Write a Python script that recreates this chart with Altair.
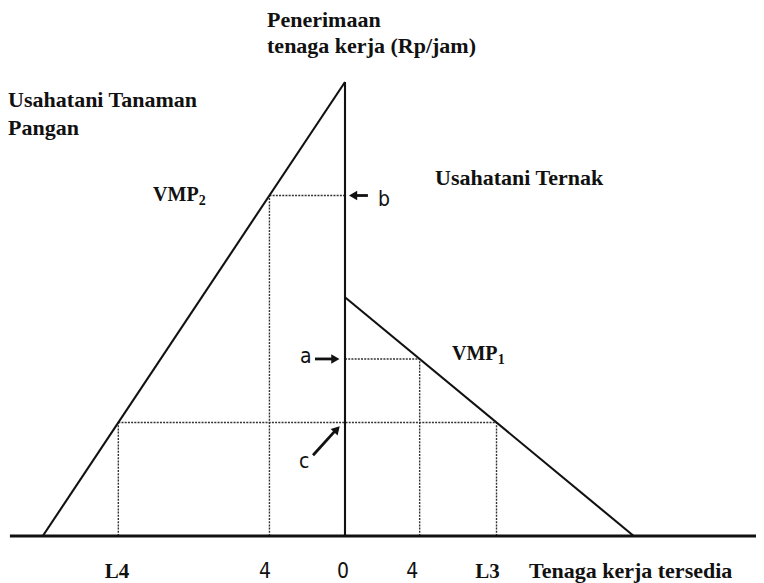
import altair as alt
import pandas as pd

# ---- values (labour units on x, Rp/jam on y) ----
vmp2_wage_top = 100.0     # VMP2 meets the wage axis
vmp2_labour_end = -15.7   # VMP2 meets the labour axis (left, food crops)
vmp1_wage_top = 52.6      # VMP1 meets the wage axis
vmp1_labour_end = 15.0    # VMP1 meets the labour axis (right, livestock)
b_level = 75.0
a_level = 39.0
c_level = 25.0

tick_labels = ["L4", "4", "0", "4", "L3"]
tick_label_x = [-11.85, -4.16, -0.1, 3.5, 7.4]
tick_label_font = ["serif", "sans", "sans", "sans", "serif"]

X_DOMAIN = [-17.506, 21.35]
Y_DOMAIN = [-10.35, 116.3]

def on_vmp2(y):
    return vmp2_labour_end * (1 - y / vmp2_wage_top)

def on_vmp1(y):
    return vmp1_labour_end * (1 - y / vmp1_wage_top)

x_b = on_vmp2(b_level)
x_L4 = on_vmp2(c_level)
x_a = on_vmp1(a_level)
x_L3 = on_vmp1(c_level)

solid = pd.DataFrame({
    "x":  [vmp2_labour_end, 0.0, 0.0, X_DOMAIN[0] + 0.1],
    "y":  [0.0, 0.0, vmp1_wage_top, 0.0],
    "x2": [0.0, 0.0, vmp1_labour_end, X_DOMAIN[1]],
    "y2": [vmp2_wage_top, vmp2_wage_top, 0.0, 0.0],
    "w":  [2.1, 2.1, 2.1, 3.0],
})

dotted = pd.DataFrame({
    "x":  [x_b, x_b, 0.0, x_a, x_L4, x_L4, x_L3],
    "y":  [b_level, 0.0, a_level, 0.0, c_level, 0.0, 0.0],
    "x2": [0.0, x_b, x_a, x_a, x_L3, x_L4, x_L3],
    "y2": [b_level, b_level, a_level, a_level, c_level, c_level, c_level],
})

# arrows pointing at b, a, c on the wage axis
arrow_lines = pd.DataFrame({
    "x":  [1.19, -1.56, -1.66],
    "y":  [b_level, a_level, 17.8],
    "x2": [0.5, -0.6, -0.55],
    "y2": [b_level, a_level, 23.0],
})
arrow_heads = pd.DataFrame({
    "x": [0.42, -0.5, -0.42],
    "y": [b_level, a_level, 23.5],
    "shape": ["triangle-left", "triangle-right", "triangle-up"],
    "angle": [0, 0, 43],
})

titles = pd.DataFrame({
    "x": [-4.05, -4.05, -17.5, -17.5, 4.68, 9.56],
    "y": [112.1, 106.4, 94.5, 88.3, 77.3, -9.25],
    "label": ["Penerimaan", "tenaga kerja (Rp/jam)", "Usahatani Tanaman",
              "Pangan", "Usahatani Ternak", "Tenaga kerja tersedia"],
})
vmp_labels = pd.DataFrame({
    "x": [-9.97, 5.56],
    "y": [73.8, 38.8],
    "label": ["VMP", "VMP"],
})
vmp_subscripts = pd.DataFrame({
    "x": [-7.6, 7.93],
    "y": [72.9, 37.9],
    "label": ["2", "1"],
})
letters = pd.DataFrame({
    "x": [1.71, -2.34, -2.39],
    "y": [72.7, 38.1, 15.0],
    "label": ["b", "a", "c"],
})
ticks = pd.DataFrame({"x": tick_label_x, "y": [-9.25] * 5,
                      "label": tick_labels, "font": tick_label_font})

xs = alt.Scale(domain=X_DOMAIN, nice=False, zero=False)
ys = alt.Scale(domain=Y_DOMAIN, nice=False, zero=False)
X = lambda f="x": alt.X(f"{f}:Q", scale=xs, axis=None)
Y = lambda f="y": alt.Y(f"{f}:Q", scale=ys, axis=None)

SERIF = "serif"
SANS = "DejaVu Sans Condensed"
INK = "#111111"

solid_layer = alt.Chart(solid).mark_rule(color=INK).encode(
    x=X(), y=Y(), x2="x2:Q", y2="y2:Q",
    strokeWidth=alt.StrokeWidth("w:Q", scale=None, legend=None))
dotted_layer = alt.Chart(dotted).mark_rule(
    color="#333333", strokeWidth=1.4, strokeDash=[2, 1.2]).encode(
    x=X(), y=Y(), x2="x2:Q", y2="y2:Q")
arrow_line_layer = alt.Chart(arrow_lines).mark_rule(color=INK, strokeWidth=2.8).encode(
    x=X(), y=Y(), x2="x2:Q", y2="y2:Q")
arrow_head_layer = alt.Chart(arrow_heads).mark_point(
    filled=True, color=INK, opacity=1, size=90).encode(
    x=X(), y=Y(),
    shape=alt.Shape("shape:N", scale=None, legend=None),
    angle=alt.Angle("angle:Q", scale=None))

title_layer = alt.Chart(titles).mark_text(
    font=SERIF, fontWeight="bold", fontSize=22, align="left",
    baseline="alphabetic", color=INK).encode(x=X(), y=Y(), text="label:N")
vmp_layer = alt.Chart(vmp_labels).mark_text(
    font=SERIF, fontWeight="bold", fontSize=20, align="left",
    baseline="alphabetic", color=INK).encode(x=X(), y=Y(), text="label:N")
vmp_sub_layer = alt.Chart(vmp_subscripts).mark_text(
    font=SERIF, fontWeight="bold", fontSize=14, align="left",
    baseline="alphabetic", color=INK).encode(x=X(), y=Y(), text="label:N")
letter_layer = alt.Chart(letters).mark_text(
    font=SANS, fontSize=21, align="left", baseline="alphabetic",
    color=INK).encode(x=X(), y=Y(), text="label:N")
tick_serif = alt.Chart(ticks[ticks["font"] == "serif"]).mark_text(
    font=SERIF, fontWeight="bold", fontSize=21, align="center",
    baseline="alphabetic", color=INK).encode(x=X(), y=Y(), text="label:N")
tick_sans = alt.Chart(ticks[ticks["font"] == "sans"]).mark_text(
    font=SANS, fontSize=21, align="center", baseline="alphabetic",
    color=INK).encode(x=X(), y=Y(), text="label:N")

chart = alt.layer(
    dotted_layer, solid_layer, arrow_line_layer, arrow_head_layer,
    title_layer, vmp_layer, vmp_sub_layer, letter_layer, tick_serif, tick_sans,
).properties(
    width=748, height=575, padding=0,
    autosize=alt.AutoSizeParams(type="none"),
    background="white",
).configure_view(stroke=None)

chart.save("out.html", embed_options={"renderer": "svg", "actions": False})
